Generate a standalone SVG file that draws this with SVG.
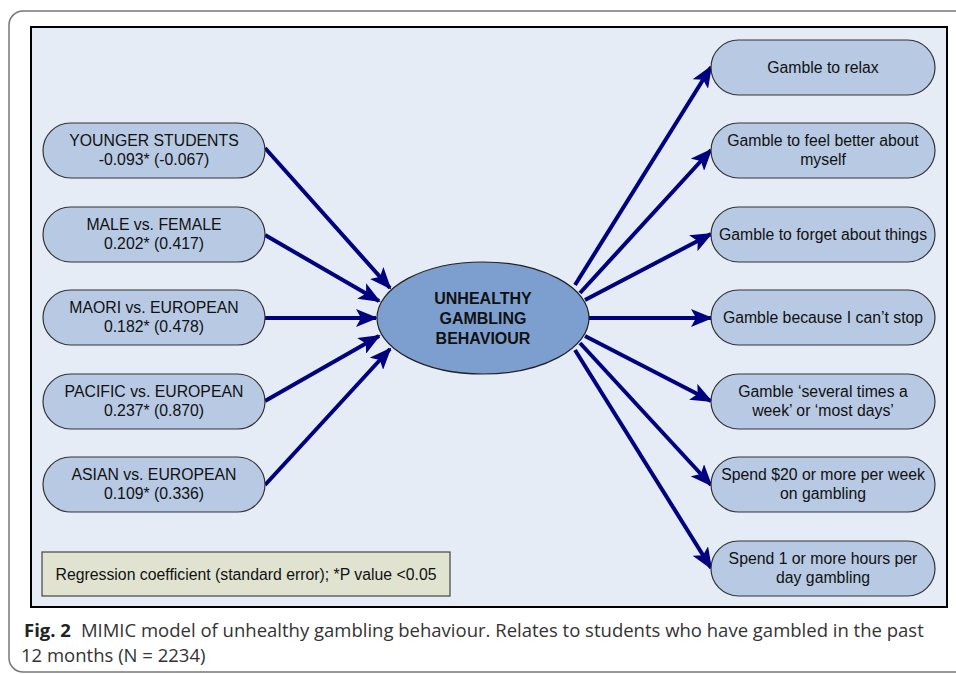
<svg xmlns="http://www.w3.org/2000/svg" width="956" height="674" viewBox="0 0 956 674">
<style>
.node rect{fill:#b7c9e3;stroke:#333;stroke-width:1.2}
.t{font-family:"Liberation Sans",Arial,sans-serif;font-size:15.8px;fill:#111;text-anchor:middle}
.b{font-weight:bold;font-size:16px}
.cap{font-family:"Open Sans","Noto Sans",sans-serif;font-size:18.5px;fill:#333}
#connectors line{stroke:#000080;stroke-width:4;marker-end:url(#ah)}
</style>
<defs>
<marker id="ah" markerUnits="userSpaceOnUse" markerWidth="22" markerHeight="18" refX="20" refY="9" orient="auto">
<path d="M0,0 L22,9 L0,18 L5,9 Z" fill="#000080"/>
</marker>
</defs>
<rect x="9" y="11" width="970" height="661" rx="14" fill="#fff" stroke="#777" stroke-width="1.5"/>
<rect x="31" y="27" width="916" height="580" fill="#e6ecf6" stroke="#000" stroke-width="2"/>
<g id="connectors">
<line x1="265" y1="148" x2="390" y2="288"/>
<line x1="265" y1="235" x2="379" y2="301"/>
<line x1="265" y1="318" x2="376" y2="318"/>
<line x1="265" y1="401" x2="379" y2="336"/>
<line x1="265" y1="485" x2="390" y2="349"/>
<line x1="575" y1="285" x2="711" y2="67"/>
<line x1="580" y1="293" x2="711" y2="150"/>
<line x1="585" y1="300" x2="711" y2="234"/>
<line x1="589" y1="318" x2="711" y2="318"/>
<line x1="585" y1="336" x2="711" y2="401"/>
<line x1="580" y1="343" x2="711" y2="485"/>
<line x1="575" y1="350" x2="711" y2="568"/>
</g>
<g id="center">
<ellipse cx="483" cy="318" rx="106" ry="56" fill="#7d9fcf" stroke="#222" stroke-width="1.2"/>
<text class="t b" x="483" y="304">UNHEALTHY</text>
<text class="t b" x="483" y="324">GAMBLING</text>
<text class="t b" x="483" y="344">BEHAVIOUR</text>
</g>
<g id="younger" class="node"><rect x="43" y="123" width="222" height="55" rx="27.5"/><text class="t" x="154" y="146">YOUNGER STUDENTS</text><text class="t" x="154" y="165">-0.093* (-0.067)</text></g>
<g id="male" class="node"><rect x="43" y="207" width="222" height="55" rx="27.5"/><text class="t" x="154" y="230">MALE vs. FEMALE</text><text class="t" x="154" y="249">0.202* (0.417)</text></g>
<g id="maori" class="node"><rect x="43" y="290" width="222" height="55" rx="27.5"/><text class="t" x="154" y="313">MAORI vs. EUROPEAN</text><text class="t" x="154" y="332">0.182* (0.478)</text></g>
<g id="pacific" class="node"><rect x="43" y="374" width="222" height="55" rx="27.5"/><text class="t" x="154" y="397">PACIFIC vs. EUROPEAN</text><text class="t" x="154" y="416">0.237* (0.870)</text></g>
<g id="asian" class="node"><rect x="43" y="457" width="222" height="55" rx="27.5"/><text class="t" x="154" y="480">ASIAN vs. EUROPEAN</text><text class="t" x="154" y="499">0.109* (0.336)</text></g>
<g id="relax" class="node"><rect x="711" y="40" width="224" height="55" rx="27.5"/><text class="t" x="823" y="73">Gamble to relax</text></g>
<g id="better" class="node"><rect x="711" y="123" width="224" height="55" rx="27.5"/><text class="t" x="823" y="146">Gamble to feel better about</text><text class="t" x="823" y="165">myself</text></g>
<g id="forget" class="node"><rect x="711" y="207" width="224" height="55" rx="27.5"/><text class="t" x="823" y="240">Gamble to forget about things</text></g>
<g id="cantstop" class="node"><rect x="711" y="290" width="224" height="55" rx="27.5"/><text class="t" x="823" y="323">Gamble because I can’t stop</text></g>
<g id="several" class="node"><rect x="711" y="374" width="224" height="55" rx="27.5"/><text class="t" x="823" y="397">Gamble ‘several times a</text><text class="t" x="823" y="416">week’ or ‘most days’</text></g>
<g id="spend20" class="node"><rect x="711" y="457" width="224" height="55" rx="27.5"/><text class="t" x="823" y="480">Spend $20 or more per week</text><text class="t" x="823" y="499">on gambling</text></g>
<g id="spend1h" class="node"><rect x="711" y="541" width="224" height="55" rx="27.5"/><text class="t" x="823" y="564">Spend 1 or more hours per</text><text class="t" x="823" y="583">day gambling</text></g>
<g id="legend"><rect x="42" y="552" width="408" height="44" fill="#dfe3cf" stroke="#444" stroke-width="1.2"/><text class="t" x="246" y="580">Regression coefficient (standard error); *P value &lt;0.05</text></g>
<text class="cap" x="24" y="637"><tspan font-weight="bold" fill="#222">Fig. 2</tspan><tspan dx="10">MIMIC model of unhealthy gambling behaviour. Relates to students who have gambled in the past</tspan></text>
<text class="cap" x="21" y="662">12 months (N = 2234)</text>
</svg>
